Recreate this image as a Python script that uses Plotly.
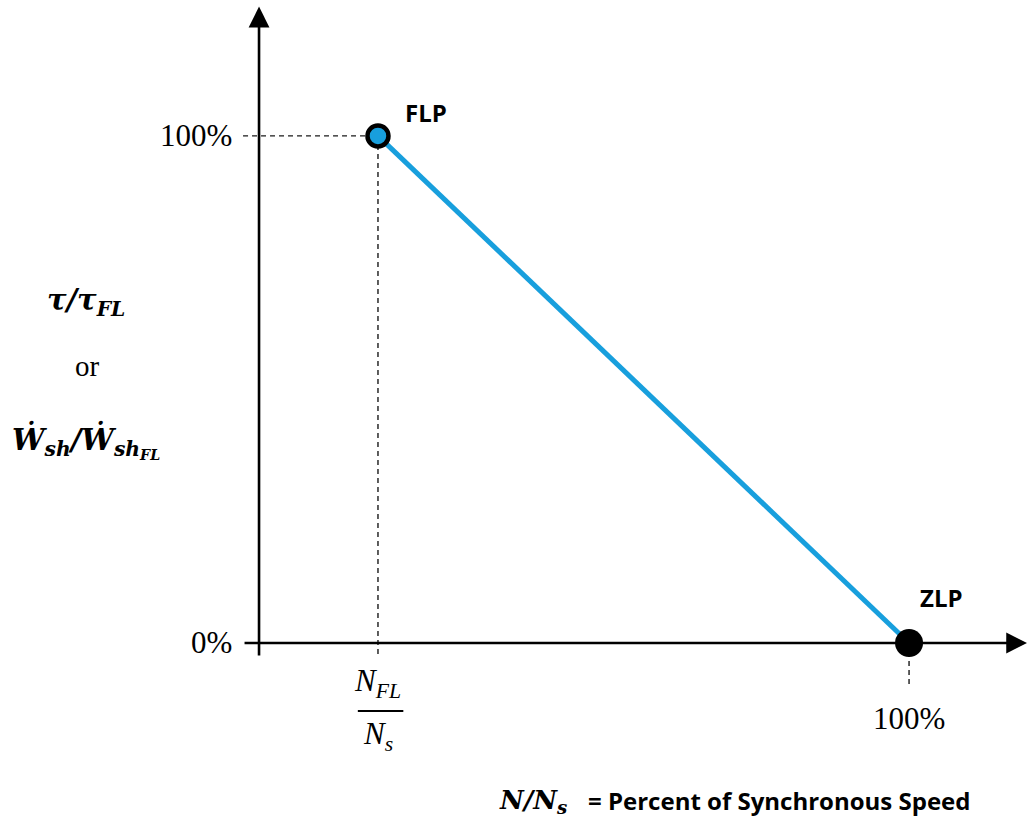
import plotly.graph_objects as go

# Operating points of the motor: full-load point and zero-load point
point_names = ["FLP", "ZLP"]
speed_pct = [18.3, 100.0]      # N/Ns, percent of synchronous speed
load_pct = [100.0, 0.0]        # torque (or shaft power) relative to full load
y_tick_vals = [0.0, 100.0]
y_tick_text = ["0%", "100%"]
x_tick_text = ["100%"]

W, H = 1028, 838
X_RANGE = [-39.85, 118.3]
Y_RANGE = [-38.46, 126.8]

BLUE = "#189fdd"
SERIF = "Liberation Serif, DejaVu Serif, serif"
MATH = "DejaVu Serif, Liberation Serif, serif"
SANS = "Open Sans, Liberation Sans, sans-serif"
DASH = dict(color="#1a1a1a", width=1.4, dash="5px,4px")

fig = go.Figure()

# Straight line between the two operating points
fig.add_trace(go.Scatter(
    x=speed_pct, y=load_pct, mode="lines",
    line=dict(color=BLUE, width=5), hoverinfo="skip", showlegend=False,
))

# Full-load point: blue dot with black ring
fig.add_trace(go.Scatter(
    x=[speed_pct[0]], y=[load_pct[0]], mode="markers",
    marker=dict(size=21, color=BLUE, line=dict(color="black", width=4.5)),
    showlegend=False,
))
# Zero-load point: solid black dot
fig.add_trace(go.Scatter(
    x=[speed_pct[1]], y=[load_pct[1]], mode="markers",
    marker=dict(size=28, color="black"),
    showlegend=False,
))

shapes = []
annotations = []

# Dashed guides from the full-load point to both axes
shapes.append(dict(type="line", xref="x", yref="y",
                   x0=-2.46, x1=speed_pct[0], y0=load_pct[0], y1=load_pct[0],
                   line=DASH, layer="below"))
shapes.append(dict(type="line", xref="x", yref="y",
                   x0=speed_pct[0], x1=speed_pct[0], y0=load_pct[0], y1=-2.96,
                   line=DASH, layer="below"))
# Dashed guide below the zero-load point
shapes.append(dict(type="line", xref="x", yref="y",
                   x0=speed_pct[1], x1=speed_pct[1], y0=load_pct[1], y1=-8.68,
                   line=DASH, layer="below"))

# Axes drawn as arrows
annotations.append(dict(xref="x", yref="y", axref="x", ayref="y",
                        x=118.15, y=0, ax=-2.46, ay=0, text="", showarrow=True,
                        arrowhead=2, arrowsize=1.6, arrowwidth=2.6, arrowcolor="black"))
annotations.append(dict(xref="x", yref="y", axref="x", ayref="y",
                        x=0, y=125.5, ax=0, ay=-2.76, text="", showarrow=True,
                        arrowhead=2, arrowsize=1.6, arrowwidth=2.6, arrowcolor="black"))

# Y tick labels
for v, t in zip(y_tick_vals, y_tick_text):
    annotations.append(dict(xref="x", yref="y", x=-3.9, y=v, text=t, showarrow=False,
                            xanchor="right", yanchor="middle",
                            font=dict(family=SERIF, size=31, color="black")))

# X tick label for 100 %
annotations.append(dict(xref="x", yref="y", x=speed_pct[1], y=-14.8, text=x_tick_text[0],
                        showarrow=False, xanchor="center", yanchor="middle",
                        font=dict(family=SERIF, size=31, color="black")))

# Fraction label N_FL / N_s under the full-load speed
annotations.append(dict(xref="x", yref="y", x=speed_pct[0], y=-3.6,
                        text="<i>N</i><sub><i>FL</i></sub>", showarrow=False,
                        xanchor="center", yanchor="top",
                        font=dict(family=SERIF, size=31, color="black")))
shapes.append(dict(type="line", xref="x", yref="y",
                   x0=speed_pct[0] - 3.1, x1=speed_pct[0] + 3.9, y0=-13.4, y1=-13.4,
                   line=dict(color="black", width=2)))
annotations.append(dict(xref="x", yref="y", x=speed_pct[0], y=-14.0,
                        text="<i>N</i><sub><i>s</i></sub>", showarrow=False,
                        xanchor="center", yanchor="top",
                        font=dict(family=SERIF, size=31, color="black")))

# Point names
annotations.append(dict(xref="x", yref="y", x=speed_pct[0] + 3.9, y=load_pct[0] + 4.6,
                        text="<b>" + point_names[0] + "</b>", showarrow=False,
                        xanchor="left", yanchor="middle",
                        font=dict(family=SANS, size=24, color="black")))
annotations.append(dict(xref="x", yref="y", x=speed_pct[1] + 1.3, y=load_pct[1] + 9.0,
                        text="<b>" + point_names[1] + "</b>", showarrow=False,
                        xanchor="left", yanchor="middle",
                        font=dict(family=SANS, size=24, color="black")))

# Y-axis title
annotations.append(dict(xref="paper", yref="paper", x=86 / W, y=1 - 302 / H,
                        text="<b><i>τ/τ</i></b><sub><b><i>FL</i></b></sub>",
                        showarrow=False, xanchor="center", yanchor="middle",
                        font=dict(family=MATH, size=29, color="black")))
annotations.append(dict(xref="paper", yref="paper", x=87 / W, y=1 - 366 / H,
                        text="or", showarrow=False, xanchor="center", yanchor="middle",
                        font=dict(family=SERIF, size=29, color="black")))
annotations.append(dict(xref="paper", yref="paper", x=86 / W, y=1 - 442 / H,
                        text="<b><i>Ẇ</i></b><sub><b><i>sh</i></b></sub><b><i>/Ẇ</i></b>"
                             "<sub><b><i>sh</i></b><sub><b><i>FL</i></b></sub></sub>",
                        showarrow=False, xanchor="center", yanchor="middle",
                        font=dict(family=MATH, size=29, color="black")))

# X-axis title
annotations.append(dict(xref="paper", yref="paper", x=497 / W, y=1 - 801 / H,
                        text="<b><i>N/N</i></b><sub><b><i>s</i></b></sub>",
                        showarrow=False, xanchor="left", yanchor="middle",
                        font=dict(family=MATH, size=26, color="black")))
annotations.append(dict(xref="paper", yref="paper", x=586 / W, y=1 - 800 / H,
                        text="<b>= Percent of Synchronous Speed</b>",
                        showarrow=False, xanchor="left", yanchor="middle",
                        font=dict(family=SANS, size=24, color="black")))

fig.update_layout(
    width=W, height=H,
    margin=dict(l=0, r=0, t=0, b=0),
    paper_bgcolor="white", plot_bgcolor="white",
    xaxis=dict(range=X_RANGE, visible=False, fixedrange=True),
    yaxis=dict(range=Y_RANGE, visible=False, fixedrange=True),
    shapes=shapes, annotations=annotations,
    showlegend=False,
)

fig.write_html("out.html")
